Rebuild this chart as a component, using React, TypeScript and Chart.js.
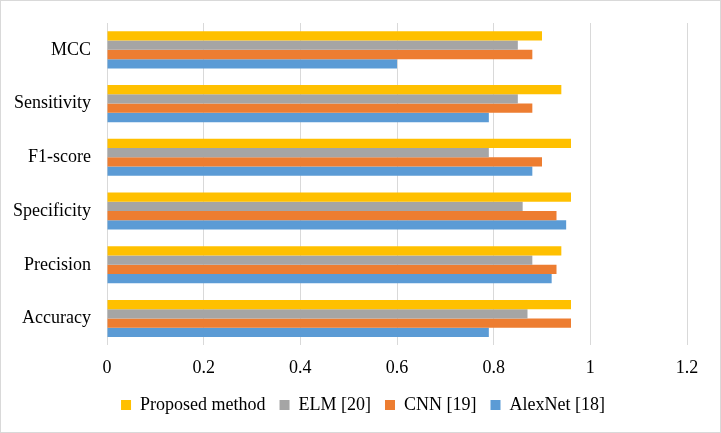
import React, { useEffect, useRef } from "react";
import { Chart, registerables } from "chart.js";

Chart.register(...registerables);

const categories = ["MCC", "Sensitivity", "F1-score", "Specificity", "Precision", "Accuracy"];
const proposedMethod = [0.9, 0.94, 0.96, 0.96, 0.94, 0.96];
const elm20 = [0.85, 0.85, 0.79, 0.86, 0.88, 0.87];
const cnn19 = [0.88, 0.88, 0.9, 0.93, 0.93, 0.96];
const alexNet18 = [0.6, 0.79, 0.88, 0.95, 0.92, 0.79];
const xTicks = [0, 0.2, 0.4, 0.6, 0.8, 1, 1.2];

const legendShift = {
  id: "legendShift",
  afterLayout(chart: any) {
    const l = chart.legend;
    if (l) {
      l.left += 13;
      l.right += 13;
    }
  },
};

export default function App() {
  const ref = useRef<HTMLCanvasElement | null>(null);

  useEffect(() => {
    if (!ref.current) return;
    const font = { family: "'Liberation Serif', 'Times New Roman', serif", size: 18 };
    const chart = new Chart(ref.current, {
      type: "bar",
      data: {
        labels: categories,
        datasets: [
          { label: "Proposed method", data: proposedMethod, backgroundColor: "#FFC000" },
          { label: "ELM [20]", data: elm20, backgroundColor: "#A5A5A5" },
          { label: "CNN [19]", data: cnn19, backgroundColor: "#ED7D31" },
          { label: "AlexNet [18]", data: alexNet18, backgroundColor: "#5B9BD5" },
        ],
      },
      plugins: [legendShift],
      options: {
        indexAxis: "y",
        responsive: false,
        animation: false,
        layout: { padding: { top: 22, left: 12, right: 33, bottom: 8 } },
        datasets: { bar: { categoryPercentage: 0.69, barPercentage: 1 } },
        scales: {
          x: {
            min: 0,
            max: 1.2,
            afterBuildTicks: (scale: any) => {
              scale.ticks = xTicks.map((v) => ({ value: v }));
            },
            afterFit: (scale: any) => {
              scale.height -= 9;
            },
            grid: { color: "#D9D9D9", lineWidth: 1, drawTicks: false },
            border: { display: false },
            ticks: { font, color: "#000", padding: 12, callback: (v: any) => String(Number(v)) },
          },
          y: {
            afterFit: (scale: any) => {
              scale.width = 94;
              scale.paddingTop = 0;
              scale.paddingBottom = 0;
            },
            grid: { display: false, drawTicks: false },
            border: { display: false },
            ticks: { font, color: "#000", padding: 16 },
          },
        },
        plugins: {
          legend: {
            position: "bottom",
            labels: { font, color: "#000", boxWidth: 10, boxHeight: 10, padding: 14 },
          },
          tooltip: { enabled: false },
        },
      },
    });
    return () => chart.destroy();
  }, []);

  return (
    <div
      style={{
        position: "absolute",
        left: 0,
        top: 0,
        width: 721,
        height: 433,
        boxSizing: "border-box",
        border: "1px solid #D9D9D9",
        background: "#fff",
      }}
    >
      <canvas ref={ref} width={719} height={431} style={{ display: "block", width: 719, height: 431 }} />
    </div>
  );
}
